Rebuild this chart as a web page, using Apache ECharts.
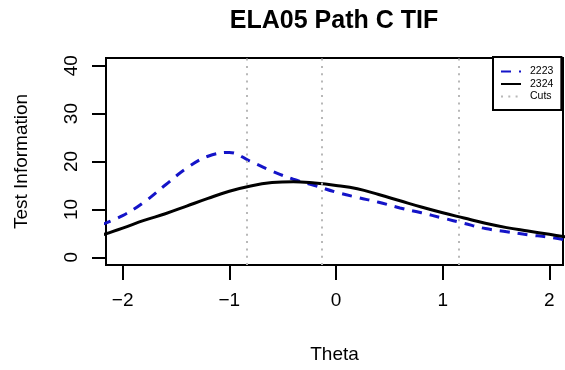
<!DOCTYPE html>
<html>
<head>
<meta charset="utf-8">
<script src="https://cdn.jsdelivr.net/npm/echarts@6/dist/echarts.min.js"></script>
<style>
html,body{margin:0;padding:0;background:#fff;}
#chart{width:565px;height:370px;}
</style>
</head>
<body>
<div id="chart"></div>
<script>
const theta = [-2.2,-2.0,-1.8,-1.6,-1.4,-1.2,-1.0,-0.8,-0.6,-0.4,-0.2,0.0,0.2,0.4,0.6,0.8,1.0,1.2,1.4,1.6,1.8,2.0,2.2];
const info2223 = [6.8,8.7,11.5,15.1,18.6,21.1,21.9,20.0,18.0,16.3,15.0,13.6,12.5,11.5,10.3,9.3,8.2,7.1,6.0,5.35,4.7,4.2,3.4];
const info2324 = [4.6,6.1,7.7,9.1,10.7,12.3,13.8,14.9,15.6,15.8,15.5,15.0,14.3,13.1,11.8,10.5,9.3,8.2,7.1,6.2,5.5,4.8,4.1];
const cuts = [-0.837,-0.134,1.147];
const xTicks = [-2,-1,0,1,2];
const yTicks = [0,10,20,30,40];
const seriesNames = ['2223','2324','Cuts'];

const FONT = 'Liberation Sans, Arial, sans-serif';
const pair = (xs, ys) => xs.map((x,i)=>[x, ys[i]]);
const fmtMinus = v => (v < 0 ? '\u2212' + Math.abs(v) : String(v));

const chart = echarts.init(document.getElementById('chart'), null, {renderer:'canvas'});
chart.setOption({
  animation: false,
  backgroundColor: '#ffffff',
  title: {
    text: 'ELA05 Path C TIF',
    left: 334, top: 9, textAlign: 'center', padding: 0,
    textStyle: {fontFamily: FONT, fontWeight: 'bold', fontSize: 25, color: '#000'}
  },
  legend: {
    orient: 'vertical',
    left: 493, top: 57,
    padding: [9, 8, 8, 7],
    itemGap: 1.5,
    itemWidth: 20, itemHeight: 11,
    borderColor: '#000', borderWidth: 2,
    backgroundColor: '#fff',
    data: seriesNames,
    itemStyle: {color: 'transparent', borderWidth: 0, opacity: 0},
    textStyle: {fontFamily: FONT, fontSize: 10.5, color: '#000', padding: [0,0,0,4]}
  },
  grid: {
    left: 106, top: 58, right: 2, bottom: 105,
    show: true, borderColor: '#000', borderWidth: 2, backgroundColor: 'transparent'
  },
  xAxis: {
    type: 'value', min: -2.156, max: 2.128,
    name: 'Theta', nameLocation: 'middle', nameGap: 80,
    nameTextStyle: {fontFamily: FONT, fontSize: 19, color: '#000'},
    axisLine: {show: false, onZero: false},
    axisTick: {show: true, length: 15, customValues: xTicks, lineStyle: {color: '#000', width: 2}},
    axisLabel: {customValues: xTicks, margin: 26, fontFamily: FONT, fontSize: 19, color: '#000', formatter: fmtMinus},
    splitLine: {show: false}
  },
  yAxis: {
    type: 'value', min: -1.6, max: 41.6,
    name: 'Test Information', nameLocation: 'middle', nameGap: 75, nameRotate: 90,
    nameTextStyle: {fontFamily: FONT, fontSize: 19, color: '#000'},
    axisLine: {show: false, onZero: false},
    axisTick: {show: true, length: 14, customValues: yTicks, lineStyle: {color: '#000', width: 2}},
    axisLabel: {customValues: yTicks, rotate: 90, margin: 25, fontFamily: FONT, fontSize: 19, color: '#000'},
    splitLine: {show: false}
  },
  series: [
    {
      name: seriesNames[0], type: 'line', smooth: 0.4, symbol: 'none', clip: true,
      data: pair(theta, info2223),
      lineStyle: {color: '#1414c8', width: 3, type: [10, 8]},
      itemStyle: {color: '#1414c8'}
    },
    {
      name: seriesNames[1], type: 'line', smooth: 0.4, symbol: 'none', clip: true,
      data: pair(theta, info2324),
      lineStyle: {color: '#000', width: 3, type: 'solid'},
      itemStyle: {color: '#000'}
    },
    {
      name: seriesNames[2], type: 'line', symbol: 'none', data: [],
      lineStyle: {color: '#b8b8b8', width: 2, type: [2, 5.3]},
      itemStyle: {color: '#b8b8b8'},
      markLine: {
        silent: true, symbol: 'none', label: {show: false},
        lineStyle: {color: '#b8b8b8', width: 2, type: [2, 5.3]},
        data: cuts.map(c => ({xAxis: c}))
      }
    }
  ]
});
</script>
</body>
</html>
